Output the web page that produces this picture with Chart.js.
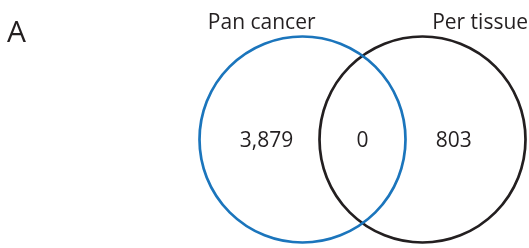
<!DOCTYPE html>
<html>
<head>
<meta charset="utf-8">
<script src="https://cdn.jsdelivr.net/npm/chart.js@4"></script>
<style>
  html, body { margin: 0; padding: 0; background: #fff; }
  #wrap { width: 529px; height: 248px; }
</style>
</head>
<body>
<div id="wrap"><canvas id="venn" width="529" height="248"></canvas></div>
<script>
// ─── Data ─────────────────────────────────────────────────
const setNames     = ['Pan cancer', 'Per tissue'];
const regionNames  = ['Pan cancer only', 'Both', 'Per tissue only'];
const regionCounts = [3879, 0, 803];

// ─── Layout (scale units: 1 = distance between circle centres) ──
const circleX  = [-0.5, 0.5];
const regionX  = [-0.8, 0.0, 0.76];
const regionY  = -0.015;
const nameX    = [-0.84, 0.98];
const nameY    = 0.92;           // text baseline
const RADIUS   = 103;            // px
const COLORS   = ['#1b75bc', '#231f20'];
const TEXT     = '#231f20';
const FONT     = "'Open Sans', sans-serif";

// ─── Text plugin ──────────────────────────────────────────
const vennText = {
    id: 'vennText',
    afterDatasetsDraw(chart) {
        const { ctx, scales: { x, y } } = chart;
        ctx.save();
        ctx.fillStyle = TEXT;

        // region counts
        ctx.font = `21px ${FONT}`;
        ctx.textAlign = 'center';
        ctx.textBaseline = 'middle';
        const meta = chart.getDatasetMeta(2);
        meta.data.forEach((pt, i) => {
            ctx.fillText(regionCounts[i].toLocaleString('en-US'), pt.x, pt.y);
        });

        // set names
        ctx.textBaseline = 'alphabetic';
        setNames.forEach((n, i) => {
            ctx.fillText(n, x.getPixelForValue(nameX[i]), y.getPixelForValue(nameY));
        });

        // panel letter
        ctx.font = `30px ${FONT}`;
        ctx.textAlign = 'left';
        ctx.fillText('A', 7, 42);
        ctx.restore();
    }
};

// ─── Chart ────────────────────────────────────────────────
const circleSets = setNames.map((name, i) => ({
    label: name,
    data: [{ x: circleX[i], y: 0 }],
    pointRadius: RADIUS,
    pointBorderWidth: 2.7,
    pointBorderColor: COLORS[i],
    pointBackgroundColor: 'rgba(0,0,0,0)',
    clip: false,
}));

new Chart(document.getElementById('venn'), {
    type: 'scatter',
    data: {
        datasets: [
            ...circleSets,
            {
                label: 'counts',
                data: regionNames.map((r, i) => ({ x: regionX[i], y: regionY })),
                pointRadius: 0,
            }
        ]
    },
    options: {
        responsive: false,
        animation: false,
        events: [],
        layout: { padding: 0, autoPadding: false },
        scales: {
            x: { display: false, min: -0.5 - 302.5 / 120, max: -0.5 - 302.5 / 120 + 529 / 120 },
            y: { display: false, min: 139.5 / 120 - 248 / 120, max: 139.5 / 120 },
        },
        plugins: { legend: { display: false }, tooltip: { enabled: false } }
    },
    plugins: [vennText]
});
</script>
</body>
</html>
